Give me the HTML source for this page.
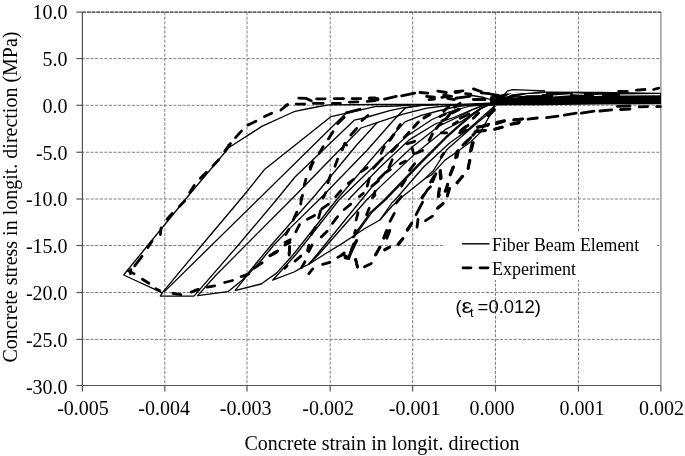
<!DOCTYPE html>
<html><head><meta charset="utf-8"><style>
html,body{margin:0;padding:0;background:#fff;}
svg{display:block;will-change:transform;}
text{font-family:"Liberation Serif",serif;font-size:20px;fill:#000;}
</style></head><body>
<svg width="685" height="456" viewBox="0 0 685 456">
<rect width="685" height="456" fill="#fff"/>
<g stroke="#808080" stroke-width="1" stroke-dasharray="3.1,1.5" fill="none">
<line x1="164.8" y1="12.1" x2="164.8" y2="385.5"/>
<line x1="247.0" y1="12.1" x2="247.0" y2="385.5"/>
<line x1="330.2" y1="12.1" x2="330.2" y2="385.5"/>
<line x1="412.7" y1="12.1" x2="412.7" y2="385.5"/>
<line x1="495.5" y1="12.1" x2="495.5" y2="385.5"/>
<line x1="578.4" y1="12.1" x2="578.4" y2="385.5"/>
</g>
<g stroke="#808080" stroke-width="1" stroke-dasharray="3.1,1.5" stroke-dashoffset="1.1" fill="none">
<line x1="82.4" y1="58.6" x2="660.9" y2="58.6"/>
<line x1="82.4" y1="105.3" x2="660.9" y2="105.3"/>
<line x1="82.4" y1="152.25" x2="660.9" y2="152.25"/>
<line x1="82.4" y1="199.0" x2="660.9" y2="199.0"/>
<line x1="82.4" y1="245.5" x2="660.9" y2="245.5"/>
<line x1="82.4" y1="292.5" x2="660.9" y2="292.5"/>
<line x1="82.4" y1="339.4" x2="660.9" y2="339.4"/>
</g>
<line x1="660.9" y1="12.1" x2="660.9" y2="385.5" stroke="#999" stroke-width="1.5"/>
<line x1="82.4" y1="12.1" x2="660.9" y2="12.1" stroke="#2a2a2a" stroke-width="1.3" stroke-dasharray="3.8,0.8"/>
<g stroke="#555" stroke-width="1.2" fill="none">
<line x1="82.4" y1="12.1" x2="82.4" y2="385.5"/>
<line x1="82.4" y1="385.5" x2="660.9" y2="385.5"/>
<line x1="82.4" y1="385.5" x2="82.4" y2="391.5"/>
<line x1="164.8" y1="385.5" x2="164.8" y2="391.5"/>
<line x1="247.0" y1="385.5" x2="247.0" y2="391.5"/>
<line x1="330.2" y1="385.5" x2="330.2" y2="391.5"/>
<line x1="412.7" y1="385.5" x2="412.7" y2="391.5"/>
<line x1="495.5" y1="385.5" x2="495.5" y2="391.5"/>
<line x1="578.4" y1="385.5" x2="578.4" y2="391.5"/>
<line x1="660.9" y1="385.5" x2="660.9" y2="391.5"/>
<line x1="76.4" y1="12.1" x2="82.4" y2="12.1"/>
<line x1="76.4" y1="58.6" x2="82.4" y2="58.6"/>
<line x1="76.4" y1="105.3" x2="82.4" y2="105.3"/>
<line x1="76.4" y1="152.25" x2="82.4" y2="152.25"/>
<line x1="76.4" y1="199.0" x2="82.4" y2="199.0"/>
<line x1="76.4" y1="245.5" x2="82.4" y2="245.5"/>
<line x1="76.4" y1="292.5" x2="82.4" y2="292.5"/>
<line x1="76.4" y1="339.4" x2="82.4" y2="339.4"/>
<line x1="76.4" y1="385.5" x2="82.4" y2="385.5"/>
</g>
<g fill="#000" stroke="none">
<polygon points="490.0,96.5 497.0,95.5 504.0,93.8 520.0,92.5 540.0,91.5 600.0,91.8 661.0,92.8 661.0,104.2 600.0,104.6 540.0,105.2 497.0,105.4 490.0,105.4"/>
</g>
<g fill="none" stroke="#fff" stroke-width="1.1">
<polyline points="505.0,97.5 512.0,93.6 527.0,92.2 546.0,93.4"/>
<polyline points="512.0,98.2 527.0,94.6 542.0,94.6"/>
<polyline points="553.0,96.0 570.0,94.8"/>
<polyline points="573.0,93.8 584.0,94.2"/>
<polyline points="594.0,95.5 602.0,95.2"/>
<polyline points="620.0,95.0 660.0,94.6"/>
</g>
<g fill="none" stroke="#000" stroke-width="1.3" stroke-linejoin="round">
<polyline points="123.6,275.0 144.0,250.0 189.0,195.0 229.0,147.5 261.8,126.4 290.0,113.5 294.9,111.3 311.3,108.0 328.4,104.8 380.0,104.5 460.0,104.4 495.0,103.0"/>
<polyline points="123.6,275.0 162.4,292.8 160.4,296.1 194.0,296.1"/>
<polyline points="162.4,292.6 202.0,245.0 244.1,195.0 264.8,169.2 331.1,116.6 345.5,113.3 375.0,106.7 396.3,106.0 413.4,104.9 440.0,104.6"/>
<polyline points="163.9,292.1 344.9,114.2 347.0,113.2"/>
<polyline points="194.0,296.1 238.4,245.0 276.3,200.0 295.0,177.0 354.2,120.2 364.0,118.0 389.7,110.7 404.2,107.6 422.6,105.4 438.4,104.5"/>
<polyline points="197.2,296.1 216.1,275.0 290.8,200.0 361.0,128.0 377.0,122.6 395.8,116.4 405.0,113.7 426.9,108.2 448.9,105.5 480.0,104.4"/>
<polyline points="197.6,295.7 227.9,291.7 242.4,279.9 271.3,245.0 315.3,195.0 356.7,145.0 377.0,122.8"/>
<polyline points="234.9,290.6 246.9,275.8 261.1,260.5 273.9,245.0 290.3,227.9 318.8,200.0 367.3,150.0 392.0,122.0 405.0,108.2 420.0,105.3"/>
<polyline points="234.9,290.6 261.1,284.0 276.5,273.1 292.9,255.0 336.4,200.0 379.3,150.0 405.0,121.9 421.4,115.4 437.9,111.0 454.3,107.1 470.8,104.9 494.0,103.5"/>
<polyline points="494.0,103.8 470.0,106.0 449.0,112.0 432.0,119.5 407.0,136.0 380.0,160.5 339.0,200.0 295.5,255.0 272.6,280.2 294.0,272.0 302.2,267.4 308.5,264.5"/>
<polyline points="494.5,102.1 545.0,102.8"/>
<polyline points="494.5,101.4 545.0,100.8"/>
<polyline points="494.5,100.1 545.0,98.8"/>
<polyline points="497.1,98.8 545.0,97.5"/>
<polyline points="498.4,97.5 514.2,96.8 545.0,95.8"/>
<polyline points="501.1,96.2 503.7,95.5 507.6,90.9 512.9,89.6 545.0,90.9"/>
<polyline points="505.0,98.2 510.3,96.2 524.7,93.6 545.0,92.2"/>
<polyline points="455.0,99.5 462.9,96.8 472.1,95.5 483.9,97.5 494.5,100.8"/>
<polyline points="308.5,264.5 316.6,255.0 361.3,200.0 380.0,177.1 411.6,147.5 439.2,125.8 458.0,117.0 472.0,110.0 484.0,105.5 494.0,104.0"/>
<polyline points="308.5,264.5 318.2,255.0 366.6,200.0 380.0,186.9 415.5,153.4 445.1,129.7 462.0,121.0 475.0,112.0 486.0,105.5 494.0,104.3"/>
<polyline points="352.0,238.0 370.0,212.8 384.0,200.0 419.4,163.3 445.1,137.6 458.0,126.0 470.0,116.0 480.0,108.5 488.0,105.0 494.0,104.2"/>
<polyline points="353.5,238.0 371.5,212.8 385.5,200.0 420.9,163.3 446.6,137.6 459.5,126.0 471.5,116.0 481.5,108.5 489.0,105.0 494.5,104.2"/>
<polyline points="379.9,220.0 391.8,203.0 395.0,200.0 423.4,167.2 449.0,143.5 466.3,131.0 481.0,118.0 492.6,107.8 495.0,104.5"/>
<polyline points="308.5,264.5 325.0,254.0 341.6,243.9 352.0,237.0 365.3,228.2 379.9,220.0 391.9,206.2 402.9,196.3 413.9,187.5 424.8,178.8 433.0,171.0 447.0,149.4 464.8,133.7 478.6,121.8 490.5,112.0 495.0,106.0"/>
<polyline points="424.8,178.8 431.4,175.0 445.0,160.1 459.6,150.0 470.8,141.7 480.0,132.9 494.0,108.0"/>
<polyline points="348.0,200.0 380.0,167.2 409.6,139.6 435.2,124.0 455.0,117.0 470.0,110.5 482.0,105.5 494.0,104.0"/>
</g>
<g fill="none" stroke="#000" stroke-width="3" stroke-dasharray="7,7" stroke-linecap="round" stroke-linejoin="round">
<polyline points="389.7,140.3 395.7,131.7 400.3,124.5"/>
<polyline points="404.2,137.6 410.8,130.4 418.7,121.8 423.9,117.9 431.8,113.3"/>
<polyline points="429.2,140.3 433.2,132.4 438.4,125.8 443.7,121.8 448.9,115.3 454.2,107.4 460.0,103.4"/>
<polyline points="443.7,111.3 448.9,106.1"/>
<polyline points="487.9,115.3 493.2,110.0"/>
<polyline points="460.3,131.1 468.2,124.5"/>
<polyline points="462.9,145.0 470.8,137.6 478.7,128.4"/>
</g>
<g fill="none" stroke="#000" stroke-width="2.8" stroke-linecap="round">
<polyline points="452.3,113.1 459.3,109.5"/>
<polyline points="440.0,116.6 445.3,113.9"/>
<polyline points="460.2,118.3 468.9,113.9"/>
<polyline points="473.3,118.3 478.6,113.1"/>
<polyline points="487.4,114.8 494.4,109.5"/>
<polyline points="461.9,129.7 468.1,125.3"/>
<polyline points="478.6,127.1 487.4,125.3"/>
<polyline points="453.2,124.5 457.5,121.8"/>
<polyline points="441.8,120.9 445.3,119.2"/>
<polyline points="475.0,131.7 485.6,130.5"/>
<polyline points="494.5,129.4 502.5,127.4"/>
<polyline points="511.0,124.0 519.5,122.0"/>
<polyline points="477.4,127.0 487.9,125.3"/>
<polyline points="496.5,122.4 504.4,120.6"/>
<polyline points="513.6,120.0 522.8,118.9"/>
<polyline points="528.0,119.2 537.3,118.0"/>
<polyline points="546.5,117.6 558.0,116.2"/>
<polyline points="564.3,115.1 576.2,113.2"/>
<polyline points="581.4,113.2 594.0,111.2"/>
<polyline points="599.9,111.0 611.7,109.9"/>
<polyline points="620.5,109.5 630.0,109.0"/>
<polyline points="639.1,106.8 647.6,106.6"/>
<polyline points="656.8,106.6 660.3,106.6"/>
<polyline points="617.4,106.4 629.9,105.9"/>
<polyline points="618.7,91.4 627.2,91.4"/>
<polyline points="636.4,90.1 645.0,89.5"/>
<polyline points="653.6,89.5 658.8,88.2"/>
<polyline points="370.0,98.2 378.0,98.6"/>
<polyline points="370.0,99.8 378.0,99.8"/>
<polyline points="384.5,99.1 396.3,96.4"/>
<polyline points="401.6,95.8 414.7,93.2"/>
<polyline points="420.0,92.5 427.9,93.2"/>
<polyline points="426.6,96.4 434.5,97.1"/>
<polyline points="429.0,99.7 434.5,99.1"/>
<polyline points="437.8,91.2 446.3,92.5"/>
<polyline points="443.7,95.1 451.6,96.4"/>
<polyline points="447.6,98.4 454.2,99.7"/>
<polyline points="455.5,92.5 460.0,91.8"/>
<polyline points="455.0,91.6 462.9,90.9"/>
<polyline points="465.5,93.6 470.8,94.2"/>
<polyline points="473.4,88.9 481.3,91.6"/>
<polyline points="481.3,92.9 489.2,93.6"/>
<polyline points="490.5,94.2 498.4,95.5"/>
<polyline points="441.8,97.3 448.8,96.4"/>
<polyline points="455.8,98.1 469.8,96.4"/>
<polyline points="473.3,99.5 485.0,99.5"/>
<polyline points="285.0,106.1 287.6,104.7"/>
<polyline points="298.8,98.2 306.1,98.4 311.3,100.8"/>
<polyline points="316.6,98.8 325.1,98.8"/>
<polyline points="334.3,98.6 343.6,98.6"/>
<polyline points="352.1,98.6 360.7,98.6"/>
<polyline points="369.2,98.2 375.0,97.9"/>
<polyline points="296.2,104.1 304.7,104.1"/>
<polyline points="313.3,103.4 323.2,103.4"/>
<polyline points="332.4,103.4 340.3,103.4"/>
<polyline points="349.5,102.1 358.0,101.8"/>
<polyline points="367.2,101.4 375.0,100.5"/>
<polyline points="328.4,138.9 333.0,131.7"/>
<polyline points="337.6,123.8 344.2,117.2"/>
<polyline points="346.2,112.9 360.0,109.3"/>
<polyline points="344.9,143.6 346.6,145.0"/>
<polyline points="350.8,135.0 356.7,128.4"/>
<polyline points="362.0,120.5 367.9,115.5"/>
<polyline points="235.5,137.6 241.4,131.1"/>
<polyline points="248.0,125.1 255.9,121.2"/>
<polyline points="264.5,116.6 271.7,113.3"/>
<polyline points="280.9,110.0 287.5,104.7"/>
<polyline points="228.9,145.0 230.5,143.6"/>
<polyline points="189.7,192.6 194.2,185.4"/>
<polyline points="200.3,178.2 206.4,172.2"/>
<polyline points="213.0,165.7 218.7,159.7"/>
<polyline points="224.9,151.2 229.5,145.5"/>
<polyline points="225.0,151.2 228.7,145.5"/>
<polyline points="310.3,169.2 312.9,161.7"/>
<polyline points="304.2,185.4 305.9,179.2"/>
<polyline points="301.1,200.0 302.6,195.3"/>
<polyline points="319.2,153.2 323.2,146.6"/>
<polyline points="342.2,149.9 344.9,143.3"/>
<polyline points="310.0,167.0 313.3,162.4"/>
<polyline points="335.0,166.3 337.6,159.1"/>
<polyline points="327.8,182.8 330.4,175.5"/>
<polyline points="323.2,197.9 325.8,192.6"/>
<polyline points="335.7,196.6 340.9,190.7"/>
<polyline points="348.2,183.4 353.4,179.5"/>
<polyline points="361.3,171.6 367.2,167.6"/>
<polyline points="367.2,186.1 369.2,178.8"/>
<polyline points="359.3,196.6 363.3,193.3"/>
<polyline points="373.2,168.3 382.4,158.4"/>
<polyline points="381.1,153.2 384.3,146.6"/>
<polyline points="388.9,167.6 392.2,159.7"/>
<polyline points="371.8,186.1 378.4,180.8"/>
<polyline points="378.4,179.5 383.7,174.2"/>
<polyline points="385.0,172.9 390.3,169.6"/>
<polyline points="373.2,196.6 375.1,191.3"/>
<polyline points="391.6,151.8 397.5,145.3"/>
<polyline points="406.8,143.9 414.7,141.3"/>
<polyline points="412.1,147.9 413.4,153.2"/>
<polyline points="416.1,153.2 422.6,150.5"/>
<polyline points="400.3,163.7 405.5,161.1"/>
<polyline points="409.5,170.3 414.7,163.7"/>
<polyline points="401.6,186.1 405.5,179.5"/>
<polyline points="440.4,170.3 441.3,178.2"/>
<polyline points="450.3,174.9 453.6,167.0"/>
<polyline points="456.8,182.8 462.8,176.2"/>
<polyline points="468.0,168.3 470.0,160.4"/>
<polyline points="471.3,150.5 473.3,142.6"/>
<polyline points="455.5,157.8 458.2,150.5"/>
<polyline points="438.4,195.3 439.7,188.7"/>
<polyline points="447.4,195.3 448.7,188.7"/>
<polyline points="445.7,190.7 447.6,184.1"/>
<polyline points="422.0,197.9 426.6,191.3"/>
<polyline points="427.2,190.0 430.5,186.7"/>
<polyline points="430.5,182.1 434.5,175.5"/>
<polyline points="441.1,157.1 443.7,153.2"/>
<polyline points="476.8,131.6 484.7,130.3"/>
<polyline points="483.4,125.7 488.7,124.3"/>
<polyline points="495.3,128.9 501.8,127.0"/>
<polyline points="496.6,123.7 504.5,121.1"/>
<polyline points="511.1,124.3 518.9,123.0"/>
<polyline points="514.3,119.7 522.2,119.1"/>
<polyline points="488.7,115.8 493.9,110.5"/>
<polyline points="470.3,151.3 472.2,142.8"/>
<polyline points="465.0,143.4 470.9,137.5"/>
<polyline points="459.7,132.9 466.3,130.3"/>
<polyline points="441.3,132.9 446.6,132.9"/>
<polyline points="453.2,111.8 458.4,109.2"/>
<polyline points="455.8,155.3 457.1,151.3"/>
<polyline points="134.7,265.8 142.0,256.3"/>
<polyline points="128.2,270.8 134.1,273.7"/>
<polyline points="130.8,269.7 130.3,273.7"/>
<polyline points="142.4,279.2 148.9,283.3"/>
<polyline points="155.8,288.8 159.7,290.8"/>
<polyline points="172.9,293.4 180.8,294.7"/>
<polyline points="191.3,292.1 197.9,289.5"/>
<polyline points="195.0,290.4 198.7,289.7"/>
<polyline points="207.1,287.1 214.7,285.8"/>
<polyline points="224.6,282.5 232.5,280.5"/>
<polyline points="241.1,276.6 248.9,273.9"/>
<polyline points="254.2,268.0 262.1,262.8"/>
<polyline points="270.0,255.5 277.2,251.6"/>
<polyline points="147.9,247.6 152.1,241.1"/>
<polyline points="160.4,234.5 161.1,227.9"/>
<polyline points="167.0,219.3 172.2,213.4"/>
<polyline points="179.5,206.2 184.7,200.9"/>
<polyline points="273.7,252.9 277.6,250.9"/>
<polyline points="284.9,245.0 290.0,242.4"/>
<polyline points="300.8,204.2 301.4,197.6"/>
<polyline points="293.2,220.0 296.8,212.1"/>
<polyline points="295.8,231.8 299.5,224.6"/>
<polyline points="285.7,234.5 288.9,229.2"/>
<polyline points="285.0,242.4 290.3,239.7"/>
<polyline points="307.4,219.3 314.6,215.4"/>
<polyline points="318.6,218.0 320.5,210.8"/>
<polyline points="321.8,208.8 328.4,204.2"/>
<polyline points="311.3,234.5 315.3,227.2"/>
<polyline points="321.2,237.1 327.1,231.2"/>
<polyline points="332.4,223.3 337.6,216.7"/>
<polyline points="344.2,209.5 350.8,204.2"/>
<polyline points="356.1,220.0 358.0,212.8"/>
<polyline points="366.6,214.7 369.2,208.2"/>
<polyline points="350.8,252.9 356.7,240.4"/>
<polyline points="341.6,255.0 344.2,252.9"/>
<polyline points="308.7,251.6 312.0,245.0"/>
<polyline points="289.2,255.0 289.6,247.0"/>
<polyline points="372.6,197.6 375.0,195.0"/>
<polyline points="396.3,202.9 401.3,196.6"/>
<polyline points="390.0,221.3 394.3,213.4"/>
<polyline points="383.8,237.8 386.8,230.5"/>
<polyline points="386.8,237.8 389.7,230.5"/>
<polyline points="375.5,255.0 379.9,247.0"/>
<polyline points="384.7,249.6 389.7,247.0"/>
<polyline points="397.9,244.3 402.9,238.4"/>
<polyline points="407.1,229.9 411.8,222.9"/>
<polyline points="416.1,214.7 422.6,202.2"/>
<polyline points="422.0,197.6 423.7,195.0"/>
<polyline points="417.0,227.2 418.0,219.3"/>
<polyline points="425.5,220.7 432.5,216.1"/>
<polyline points="437.4,208.2 443.0,203.2"/>
<polyline points="438.4,196.6 439.5,195.0"/>
<polyline points="270.0,255.8 275.9,252.8"/>
<polyline points="289.1,253.8 289.7,246.6"/>
<polyline points="295.0,261.1 300.9,256.1"/>
<polyline points="307.5,250.5 308.8,245.3"/>
<polyline points="301.6,267.6 304.9,261.7"/>
<polyline points="308.8,273.6 312.8,268.9"/>
<polyline points="322.6,264.3 329.9,262.4"/>
<polyline points="337.8,257.4 343.4,254.2"/>
<polyline points="343.7,255.1 348.9,257.8"/>
<polyline points="349.2,256.8 350.9,252.1"/>
<polyline points="351.6,249.2 353.6,243.9"/>
<polyline points="355.8,259.5 357.5,267.0"/>
<polyline points="284.7,268.3 287.1,265.7"/>
<polyline points="356.2,240.8 353.2,247.4"/>
<polyline points="351.6,249.3 349.6,255.9"/>
<polyline points="345.0,257.9 348.9,258.6"/>
<polyline points="355.5,259.5 357.5,267.1"/>
<polyline points="364.5,266.8 371.3,263.4"/>
<polyline points="375.9,254.2 379.9,247.4"/>
<polyline points="384.7,250.0 389.7,247.1"/>
<polyline points="383.8,238.2 386.4,230.9"/>
<polyline points="386.8,238.2 389.7,230.5"/>
<polyline points="398.3,244.5 402.9,238.8"/>
<polyline points="407.5,230.3 410.5,225.7"/>
<polyline points="354.5,233.2 355.5,230.3"/>
<polyline points="457.0,157.2 458.3,151.6"/>
<polyline points="468.2,168.4 469.5,160.5"/>
<polyline points="450.0,174.7 453.0,167.1"/>
<polyline points="439.9,171.1 440.5,178.9"/>
<polyline points="438.2,196.7 439.2,188.8"/>
<polyline points="445.1,191.4 447.8,184.5"/>
<polyline points="447.4,196.1 449.7,188.4"/>
<polyline points="457.4,182.9 462.2,176.3"/>
<polyline points="438.2,207.9 443.2,203.7"/>
<polyline points="432.6,181.6 435.9,173.7"/>
</g>
<rect x="443" y="232" width="214" height="48" fill="#fff"/>
<line x1="462" y1="243.8" x2="489.5" y2="243.8" stroke="#222" stroke-width="1.6"/>
<line x1="463" y1="267.8" x2="489" y2="267.8" stroke="#000" stroke-width="2.8" stroke-dasharray="8,9" stroke-linecap="round"/>
<text x="492" y="250.5" style="font-size:17.8px">Fiber Beam Element</text>
<text x="492" y="274.5" style="font-size:18px">Experiment</text>
<g style="font-family:'Liberation Sans',sans-serif;font-size:18px">
<text x="455.6" y="313.4" style="font-family:'Liberation Sans',sans-serif;font-size:18px">(</text>
<text transform="translate(461.6,313.4) scale(1.18,1)" style="font-family:'Liberation Sans',sans-serif;font-size:20px">ε</text>
<text x="470" y="317" style="font-family:'Liberation Sans',sans-serif;font-size:13px">t</text>
<text x="477.6" y="313.4" style="font-family:'Liberation Sans',sans-serif;font-size:18.5px">=0.012)</text>
</g>
<text x="67.6" y="19.1" text-anchor="end">10.0</text>
<text x="67.6" y="65.9" text-anchor="end">5.0</text>
<text x="67.6" y="112.7" text-anchor="end">0.0</text>
<text x="67.6" y="159.5" text-anchor="end">-5.0</text>
<text x="67.6" y="206.3" text-anchor="end">-10.0</text>
<text x="67.6" y="253.2" text-anchor="end">-15.0</text>
<text x="67.6" y="300.0" text-anchor="end">-20.0</text>
<text x="67.6" y="346.8" text-anchor="end">-25.0</text>
<text x="67.6" y="393.6" text-anchor="end">-30.0</text>
<text x="83.0" y="415" text-anchor="middle">-0.005</text>
<text x="164.2" y="415" text-anchor="middle">-0.004</text>
<text x="245.7" y="415" text-anchor="middle">-0.003</text>
<text x="328.2" y="415" text-anchor="middle">-0.002</text>
<text x="414.6" y="415" text-anchor="middle">-0.001</text>
<text x="492.1" y="415" text-anchor="middle">0.000</text>
<text x="581.9" y="415" text-anchor="middle">0.001</text>
<text x="661.5" y="415" text-anchor="middle">0.002</text>
<text x="382" y="449.7" text-anchor="middle">Concrete strain in longit. direction</text>
<text transform="translate(17,197) rotate(-90)" text-anchor="middle">Concrete stress in longit. direction (MPa)</text>
</svg>
</body></html>
